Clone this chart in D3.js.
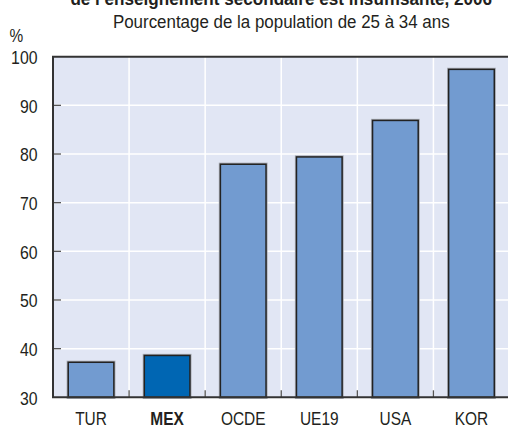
<!DOCTYPE html>
<html>
<head>
<meta charset="utf-8">
<script src="https://cdn.jsdelivr.net/npm/d3@7"></script>
<style>
  body { margin: 0; background: #fff; }
  svg { display: block; font-family: "Liberation Sans", Arial, sans-serif; }
</style>
</head>
<body>
<svg id="chart" width="508" height="427"></svg>
<script>
const countries = ['TUR', 'MEX', 'OCDE', 'UE19', 'USA', 'KOR']
const values = [37.2, 38.6, 77.9, 79.4, 86.9, 97.4]
const highlighted = ['MEX']
const yTicks = [30, 40, 50, 60, 70, 80, 90, 100]

const titleText = 'de l\u2019enseignement secondaire est insuffisante, 2006'
const subtitleText = 'Pourcentage de la population de 25 à 34 ans'

const svg = d3.select('#chart')
const margin = { top: 56.7, left: 53, right: -1.5, bottom: 29.7 }
const width = 508 - margin.left - margin.right
const height = 427 - margin.top - margin.bottom

const x = d3.scaleBand()
  .domain(countries)
  .range([0, width])
  .paddingInner(0.4)
  .paddingOuter(0.2)

const y = d3.scaleLinear()
  .domain([30, 100])
  .range([height, 0])

const textColor = '#231f20'
const squeeze = 0.88 // the reference uses a condensed face

// place a text at (px, py) squeezed horizontally
function condensed (sel, px, py, sx = squeeze) {
  return sel.attr('transform', (d, i) => {
    const tx = typeof px === 'function' ? px(d, i) : px
    const ty = typeof py === 'function' ? py(d, i) : py
    return `translate(${tx},${ty}) scale(${sx},1)`
  })
}

// titles
svg.append('text')
  .call(condensed, margin.left + width / 2, 4.5, 0.925)
  .attr('text-anchor', 'middle')
  .attr('font-weight', 'bold')
  .attr('font-size', 18.5)
  .attr('fill', textColor)
  .text(titleText)

svg.append('text')
  .call(condensed, margin.left + width / 2, 27.5, 0.915)
  .attr('text-anchor', 'middle')
  .attr('font-size', 18.5)
  .attr('fill', textColor)
  .text(subtitleText)

svg.append('text')
  .call(condensed, 9.5, 41.5)
  .attr('font-size', 17.5)
  .attr('fill', textColor)
  .text('%')

const g = svg.append('g')
  .attr('transform', `translate(${margin.left},${margin.top})`)

g.append('rect')
  .attr('width', width)
  .attr('height', height)
  .attr('fill', '#e1e6f4')

// band boundaries for vertical grid
const step = x.step()
const boundaries = d3.range(1, countries.length).map(i => i * step)

g.append('g')
  .selectAll('line')
  .data(yTicks.slice(1, -1))
  .join('line')
  .attr('x1', 0)
  .attr('x2', width)
  .attr('y1', d => y(d))
  .attr('y2', d => y(d))
  .attr('stroke', '#fff')
  .attr('stroke-width', 1.5)

g.append('g')
  .selectAll('line')
  .data(boundaries)
  .join('line')
  .attr('x1', d => d)
  .attr('x2', d => d)
  .attr('y1', 0)
  .attr('y2', height)
  .attr('stroke', '#fff')
  .attr('stroke-width', 1.5)

// bars
const bars = g.append('g')
  .selectAll('g')
  .data(countries.map((c, i) => ({ country: c, value: values[i] })))
  .join('g')

bars.append('rect')
  .attr('x', d => x(d.country))
  .attr('y', d => y(d.value))
  .attr('width', x.bandwidth())
  .attr('height', d => height - y(d.value))
  .attr('fill', 'none')
  .attr('stroke', '#a9acb4')
  .attr('stroke-width', 3.2)

bars.append('rect')
  .attr('x', d => x(d.country))
  .attr('y', d => y(d.value))
  .attr('width', x.bandwidth())
  .attr('height', d => height - y(d.value))
  .attr('fill', d => highlighted.includes(d.country) ? '#0066b3' : '#729bd0')
  .attr('stroke', '#222')
  .attr('stroke-width', 1.5)

// inner ticks
g.append('g')
  .selectAll('line')
  .data(yTicks.slice(1, -1))
  .join('line')
  .attr('x1', 0)
  .attr('x2', 8)
  .attr('y1', d => y(d))
  .attr('y2', d => y(d))
  .attr('stroke', '#555')
  .attr('stroke-width', 1.3)

g.append('g')
  .selectAll('line')
  .data(boundaries)
  .join('line')
  .attr('x1', d => d)
  .attr('x2', d => d)
  .attr('y1', height)
  .attr('y2', height - 7)
  .attr('stroke', '#555')
  .attr('stroke-width', 1.3)

// frame
g.append('path')
  .attr('d', `M${width},0H0V${height}H${width}`)
  .attr('fill', 'none')
  .attr('stroke', '#333')
  .attr('stroke-width', 2)

// y tick labels
g.append('g')
  .selectAll('text')
  .data(yTicks)
  .join('text')
  .call(condensed, -15.5, d => y(d) + 7.2)
  .attr('text-anchor', 'end')
  .attr('font-size', 18)
  .attr('fill', textColor)
  .text(d => d)

// x labels
g.append('g')
  .selectAll('text')
  .data(countries)
  .join('text')
  .call(condensed, d => x(d) + x.bandwidth() / 2, height + 28, 0.86)
  .attr('text-anchor', 'middle')
  .attr('font-size', 18)
  .attr('font-weight', d => highlighted.includes(d) ? 'bold' : 'normal')
  .attr('fill', textColor)
  .text(d => d)
</script>
</body>
</html>
